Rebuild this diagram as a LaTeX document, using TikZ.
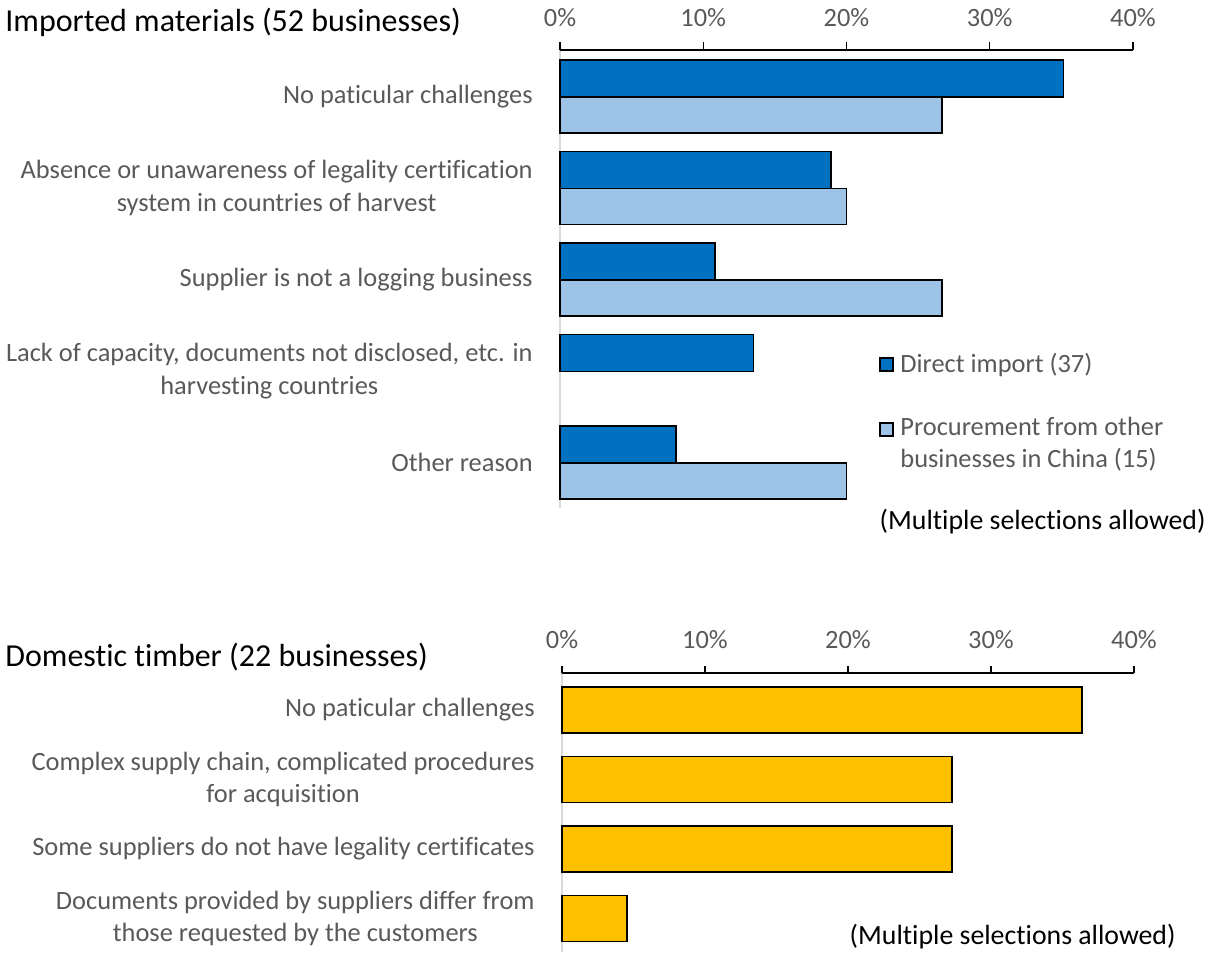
\documentclass[tikz,border=0pt]{standalone}
\usepackage{fontspec}
\setmainfont{Carlito}[Ligatures={NoCommon}]
\usetikzlibrary{positioning}
\definecolor{directblue}{HTML}{0070C0}
\definecolor{procblue}{HTML}{9DC3E6}
\definecolor{timbergold}{HTML}{FFC000}
\definecolor{labelgray}{HTML}{595959}
\definecolor{axisgray}{HTML}{D9D9D9}
\tikzset{
  catlabel/.style={anchor=east, align=center, text=labelgray, inner sep=0pt,
    font=\fontsize{13.2}{16.1}\selectfont},
  ticklabel/.style={text=labelgray, inner sep=0pt, font=\fontsize{13.2}{16.1}\selectfont},
  charttitle/.style={anchor=west, inner sep=0pt, font=\fontsize{16}{19}\selectfont},
  notelabel/.style={anchor=east, inner sep=0pt, font=\fontsize{13.9}{17}\selectfont},
  legendtext/.style={anchor=west, align=left, text=labelgray, inner sep=0pt,
    font=\fontsize{13.2}{16.1}\selectfont},
  barbox/.style={draw=black, line width=0.75pt},
  keybox/.style={draw=black, line width=0.9pt, minimum size=6.6pt, inner sep=0pt}
}
\begin{document}
\begin{tikzpicture}[x=0.5pt, y=-0.5pt]
  \useasboundingbox (0,0) rectangle (1208,952);
  % imported materials
  \node[charttitle] (imptitle) at (5,22) {Imported materials (52 businesses)};
  \draw[axisgray, line width=0.8pt] (560,50) -- (560,508);
  \draw[line width=0.7pt] (560,50) -- (1133,50);
  \foreach \i/\lab in {0/0,1/10,2/20,3/30,4/40}{
    \draw[line width=0.7pt] (560+143.25*\i,42) -- (560+143.25*\i,50);
    \node[ticklabel] (itick\i) at (560+143.25*\i,18) {\lab\%};
  }
  \foreach \k/\v in {0/35.14,1/18.92,2/10.81,3/13.51,4/8.11}
    \draw[barbox, fill=directblue] (560,60+91.5*\k) rectangle (560+14.325*\v,97+91.5*\k);
  \foreach \k/\v in {0/26.67,1/20,2/26.67,4/20}
    \draw[barbox, fill=procblue] (560,97+91.5*\k) rectangle (560+14.325*\v,133+91.5*\k);
  \node[catlabel] (imp0) at (533,96.5) {No paticular challenges};
  \node[catlabel] (imp1) at (533,188) {Absence or unawareness of legality certification\\system in countries of harvest};
  \node[catlabel] (imp2) at (533,279.5) {Supplier is not a logging business};
  \node[catlabel] (imp3) at (533,371) {Lack of capacity, documents not disclosed, etc. in\\harvesting countries};
  \node[catlabel] (imp4) at (533,462.5) {Other reason};
  % legend
  \node[keybox, fill=directblue] (keydirect) at (886.5,364.5) {};
  \node[legendtext, right=3pt of keydirect] (keydirecttxt) {Direct import (37)};
  \node[keybox, fill=procblue] (keyproc) at (886.5,429.5) {};
  \node[legendtext] (keyproctxt) at (900,444) {Procurement from other\\businesses in China (15)};
  \node[notelabel] (impnote) at (1206,522) {(Multiple selections allowed)};
  % domestic timber
  \node[charttitle] (domtitle) at (5,657) {Domestic timber (22 businesses)};
  \draw[axisgray, line width=0.8pt] (562,673) -- (562,952);
  \draw[line width=0.7pt] (562,673) -- (1134,673);
  \foreach \i/\lab in {0/0,1/10,2/20,3/30,4/40}{
    \draw[line width=0.7pt] (562+143*\i,666) -- (562+143*\i,673);
    \node[ticklabel] (dtick\i) at (562+143*\i,640) {\lab\%};
  }
  \foreach \k/\v in {0/36.36,1/27.27,2/27.27,3/4.55}
    \draw[barbox, fill=timbergold] (562,687+69.5*\k) rectangle (562+14.3*\v,733+69.5*\k);
  \node[catlabel] (dom0) at (535,710) {No paticular challenges};
  \node[catlabel] (dom1) at (535,779.5) {Complex supply chain, complicated procedures\\for acquisition};
  \node[catlabel] (dom2) at (535,849) {Some suppliers do not have legality certificates};
  \node[catlabel] (dom3) at (535,918.5) {Documents provided by suppliers differ from\\those requested by the customers};
  \node[notelabel] (domnote) at (1176,937) {(Multiple selections allowed)};
\end{tikzpicture}
\end{document}
